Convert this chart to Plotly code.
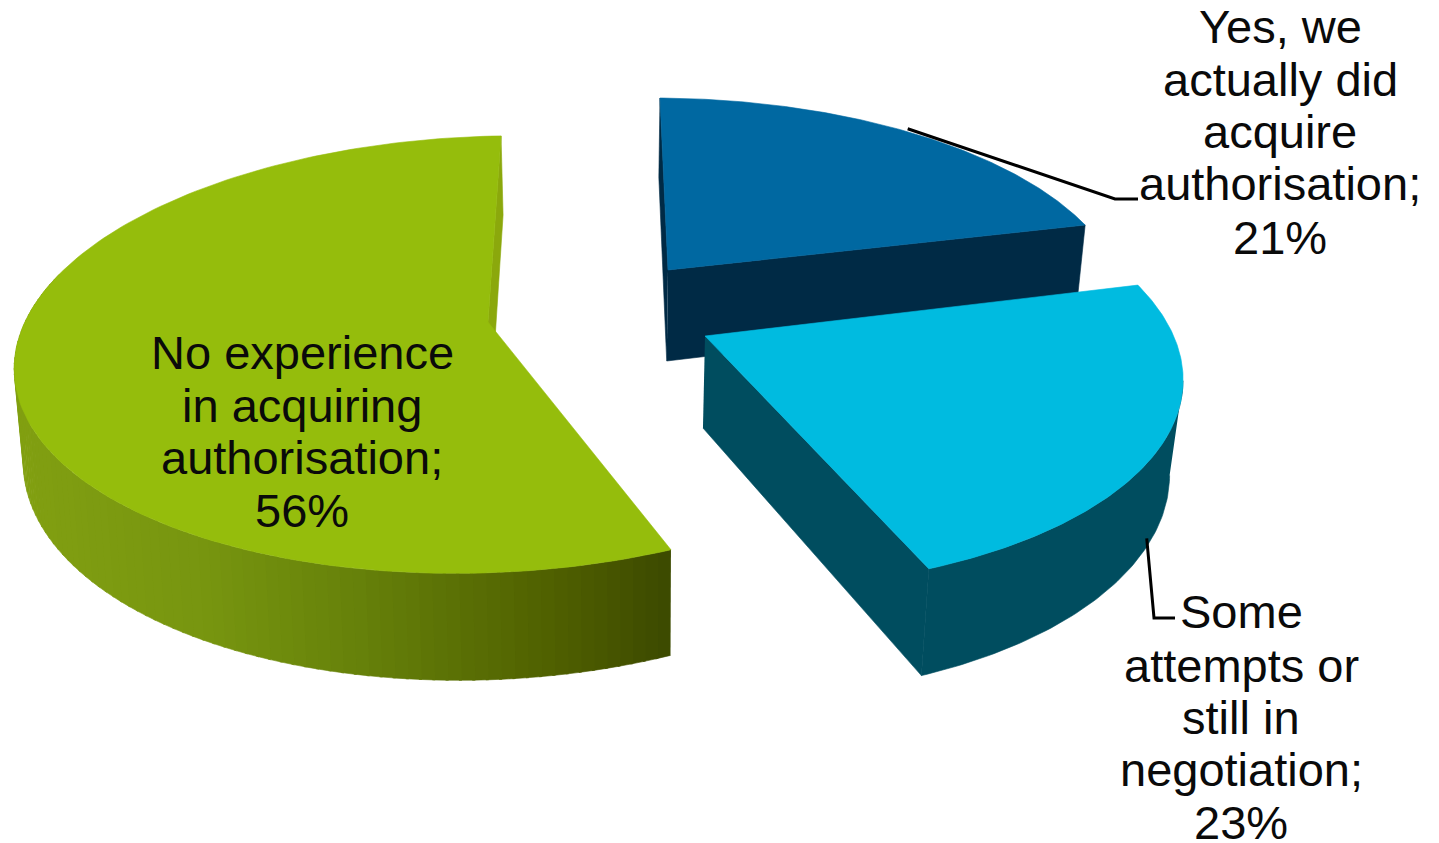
import numpy as np
import plotly.graph_objects as go

# Survey shares, clockwise from twelve o'clock
categories = ["Yes, we actually did acquire authorisation",
              "Some attempts or still in negotiation",
              "No experience in acquiring authorisation"]
shares = [21, 23, 56]
label_lines = [
    ["Yes, we", "actually did", "acquire", "authorisation;", "21%"],
    ["Some", "attempts or", "still in", "negotiation;", "23%"],
    ["No experience", "in acquiring", "authorisation;", "56%"],
]
label_x = [1280, 1241, 302]
label_y = [[26, 79, 131, 183, 237], [611, 665, 717, 769, 822], [352, 405, 457, 510]]

WIDTH, HEIGHT = 1439, 843
PERSPECTIVE = 0.149

# Projection of each exploded slice: tip position, axes, skew, and how the
# lower face drifts towards the vanishing column
slice_geometry = [
    dict(cx=668, cy=270, rx=449, ry=197.6, lx=-9.2, t=2.6, vx=600, k=0.019, h=91),
    dict(cx=705, cy=336, rx=469, ry=215.4, lx=-21.7, t=0.8, vx=620, k=0.024, h=92),
    dict(cx=488, cy=322, rx=466, ry=213.8, lx=15, t=-7, vx=640, k=0.0145, h=91),
]
top_colors = ["#0068a1", "#00bbe0", "#95bd0c"]
wall_colors = ["#002a45", "#004d5f", "#8ba80c"]

# Rim shading of the large slice, sampled left to right
rim_stops_x = [13, 200, 360, 560, 670]
rim_stops_rgb = [(130, 160, 18), (120, 150, 16), (102, 129, 10), (79, 95, 0), (61, 74, 0)]


def project(g, r, deg, lower=False):
    a = np.radians(deg)
    w = 1 + PERSPECTIVE * r * np.cos(a)
    x = g["cx"] + r * (g["rx"] * np.sin(a) + g["lx"] * np.cos(a)) / w
    y = g["cy"] + r * (-g["ry"] * np.cos(a) + g["t"] * np.sin(a)) / w
    if lower:
        y = y + g["h"] / w
        x = x + g["k"] * (g["vx"] - x)
    return x, y


fig = go.Figure()


def polygon(xs, ys, color):
    fig.add_trace(go.Scatter(x=xs, y=ys, mode="lines", fill="toself", fillcolor=color,
                             line=dict(color=color, width=0.6), hoverinfo="skip",
                             showlegend=False))


def wall(g, deg, color):
    pts = [project(g, 0, deg), project(g, 1, deg), project(g, 1, deg, True), project(g, 0, deg, True)]
    polygon([p[0] for p in pts], [p[1] for p in pts], color)


def rim(g, a0, a1, color):
    th = np.linspace(a0, a1, 80)
    tx, ty = project(g, 1, th)
    bx, by = project(g, 1, th, True)
    polygon(np.r_[tx, bx[::-1]], np.r_[ty, by[::-1]], color)


def top(g, a0, a1, color):
    th = np.linspace(a0, a1, 160)
    x, y = project(g, 1, th)
    cx, cy = project(g, 0, a0)
    polygon(np.r_[cx, x, cx], np.r_[cy, y, cy], color)


edges = np.cumsum([0] + shares) * 3.6
spans = list(zip(edges[:-1], edges[1:]))

# Dark blue slice at the back
g = slice_geometry[0]
wall(g, spans[0][0], wall_colors[0])
wall(g, spans[0][1], wall_colors[0])
top(g, *spans[0], top_colors[0])

# Large slice: shaded rim in thin vertical strips, then the cut wall and the top
g = slice_geometry[2]
wall(g, spans[2][1], wall_colors[2])
strip_edges = np.linspace(spans[2][0], 285, 90)
for a0, a1 in zip(strip_edges[:-1], strip_edges[1:]):
    mid_x = project(g, 1, (a0 + a1) / 2)[0]
    rgb = [int(np.interp(mid_x, rim_stops_x, [s[i] for s in rim_stops_rgb])) for i in range(3)]
    rim(g, a0, a1 + 0.3, "rgb(%d,%d,%d)" % tuple(rgb))
top(g, *spans[2], top_colors[2])

# Cyan slice in front; its rim starts where the arc reaches its rightmost point
g = slice_geometry[1]
wall(g, spans[1][1], wall_colors[1])
sweep = np.linspace(*spans[1], 200)
rim_start = sweep[np.argmax(project(g, 1, sweep)[0])]
rim(g, rim_start, spans[1][1], wall_colors[1])
top(g, *spans[1], top_colors[1])

# Leader lines run from the middle of each slice's arc to its label
mid0 = sum(spans[0]) / 2
mid1 = sum(spans[1]) / 2
x0, y0 = project(slice_geometry[0], 1, mid0)
x1, y1 = project(slice_geometry[1], 1, mid1, True)
fig.add_trace(go.Scatter(x=[x0, 1115, 1138], y=[y0 - 3, 199, 199], mode="lines",
                         line=dict(color="#000000", width=3), hoverinfo="skip", showlegend=False))
fig.add_trace(go.Scatter(x=[x1 - 4, 1154, 1175], y=[y1 - 2, 618, 618], mode="lines",
                         line=dict(color="#000000", width=3), hoverinfo="skip", showlegend=False))

for lines, lx, ys in zip(label_lines, label_x, label_y):
    for text, ly in zip(lines, ys):
        fig.add_annotation(x=lx, y=ly, text=text, showarrow=False, xanchor="center", yanchor="middle",
                           font=dict(family="Liberation Sans", size=47, color="#0a0a0a"))

fig.update_layout(
    width=WIDTH, height=HEIGHT, margin=dict(l=0, r=0, t=0, b=0),
    paper_bgcolor="white", plot_bgcolor="white", showlegend=False,
    xaxis=dict(range=[0, WIDTH], visible=False, fixedrange=True),
    yaxis=dict(range=[HEIGHT, 0], visible=False, fixedrange=True),
)

fig.write_html("out.html", config={"displayModeBar": False})
